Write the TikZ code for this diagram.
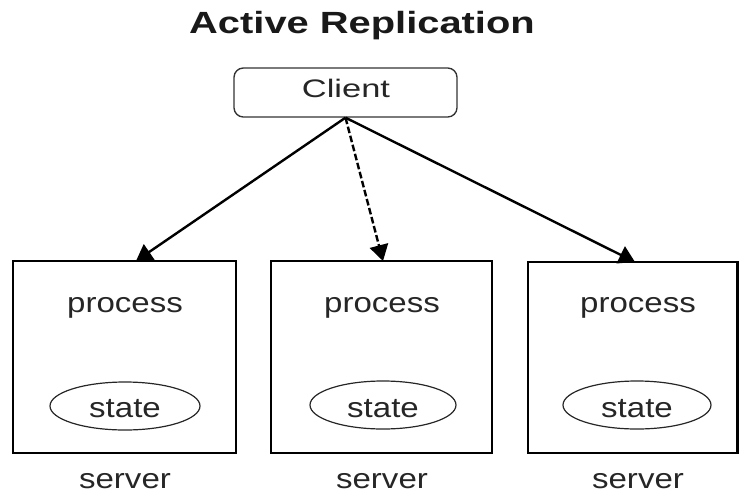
\documentclass[tikz,border=0pt]{standalone}
\usepackage{fontspec}
\setmainfont{Liberation Sans}
\usetikzlibrary{arrows.meta,shapes.geometric}
\begin{document}
\begin{tikzpicture}[x=0.75pt,y=-0.75pt,
  boxstyle/.style={draw=black,line width=1.6pt},
  ellstyle/.style={draw=black!85,line width=0.9pt},
  arr/.style={line width=1.8pt,-{Triangle[length=12pt,width=14pt]}},
  lbl/.style={font=\fontsize{21}{21}\selectfont,inner sep=0pt,anchor=base,text=black!85}]
\useasboundingbox (0,0) rectangle (739,493);
% title
\node[inner sep=0pt,anchor=base,font=\fontsize{23}{23}\selectfont\bfseries,text=black!90] (title) at (362,33) {\scalebox{1.3}[1]{Active Replication}};
% client
\node[draw=black!80,line width=1pt,rounded corners=7pt,minimum width=223*0.75pt,minimum height=49*0.75pt,inner sep=0pt] (client) at (345.5,92.5) {};
\node[inner sep=0pt,anchor=base,font=\fontsize{19}{19}\selectfont,text=black!85] (clientlbl) at (346,97) {\scalebox{1.36}[1]{Client}};
% servers
\draw[boxstyle] (13,261) rectangle (236,453);
\draw[boxstyle] (271,261) rectangle (492,453);
\draw[boxstyle] (528,262) rectangle (737.5,453);
\coordinate (t1) at (136,261);
\coordinate (t2) at (383,261);
\coordinate (t3) at (635,262);
% ellipses
\node[ellstyle,ellipse,minimum width=150*0.75pt,minimum height=48*0.75pt,inner sep=0pt] (e1) at (125,406) {};
\node[ellstyle,ellipse,minimum width=146*0.75pt,minimum height=48*0.75pt,inner sep=0pt] (e2) at (383,405) {};
\node[ellstyle,ellipse,minimum width=148*0.75pt,minimum height=48*0.75pt,inner sep=0pt] (e3) at (637,405) {};
% labels
\node[lbl] (p1) at (125,312) {\scalebox{1.18}[1]{process}};
\node[lbl] (p2) at (382,312) {\scalebox{1.18}[1]{process}};
\node[lbl] (p3) at (638,312) {\scalebox{1.18}[1]{process}};
\node[lbl] (s1) at (125,417) {\scalebox{1.18}[1]{state}};
\node[lbl] (s2) at (383,417) {\scalebox{1.18}[1]{state}};
\node[lbl] (s3) at (637,417) {\scalebox{1.18}[1]{state}};
\node[lbl] (v1) at (125,488) {\scalebox{1.18}[1]{server}};
\node[lbl] (v2) at (382,488) {\scalebox{1.18}[1]{server}};
\node[lbl] (v3) at (638,488) {\scalebox{1.18}[1]{server}};
% arrows
\draw[arr] (client.south) -- (t1);
\draw[arr,dash pattern=on 5pt off 2pt] (client.south) -- (t2);
\draw[arr] (client.south) -- (t3);
\end{tikzpicture}
\end{document}
